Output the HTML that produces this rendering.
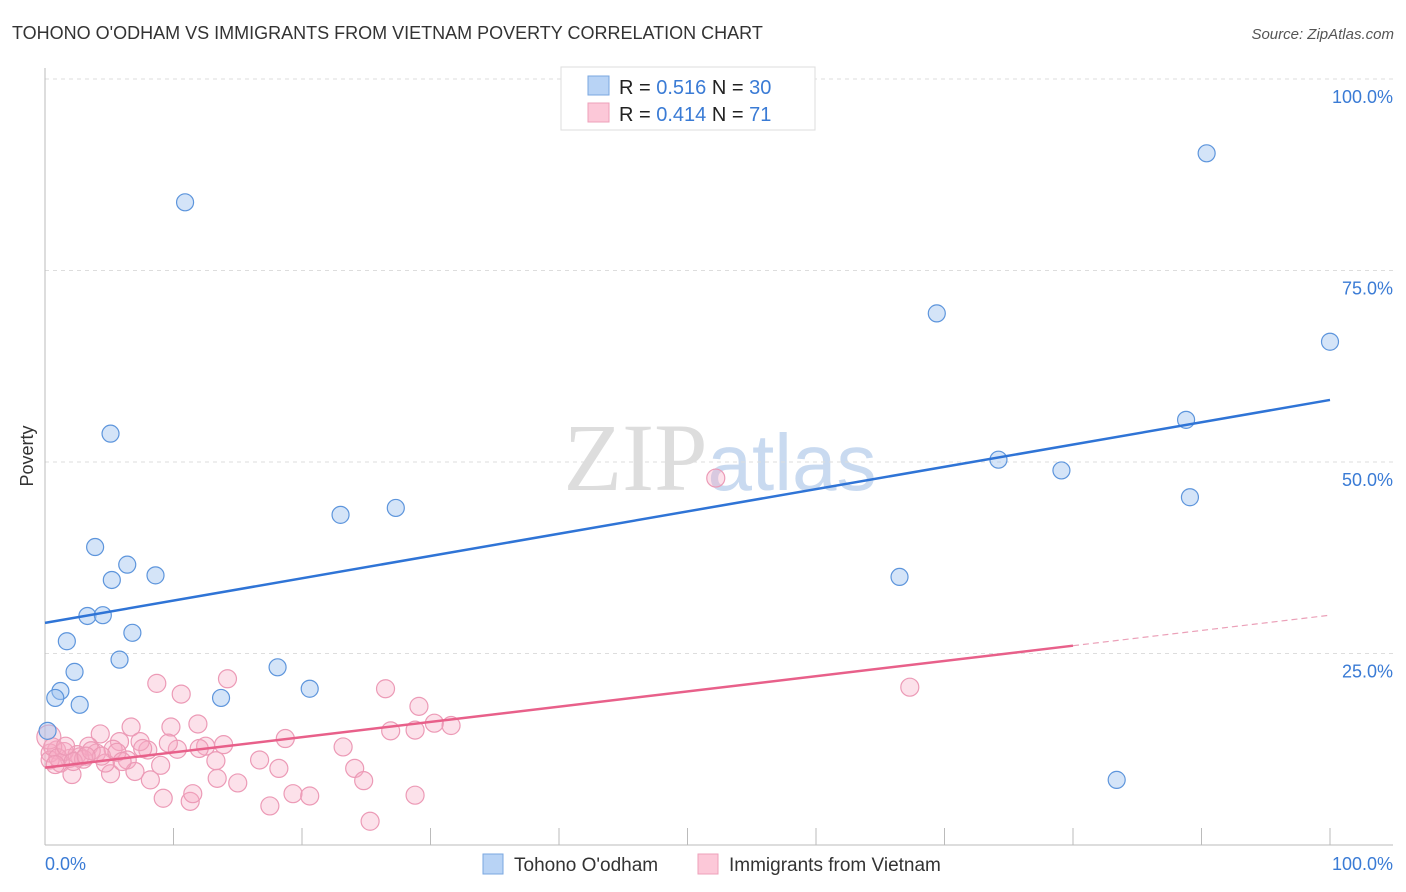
<!DOCTYPE html>
<html><head><meta charset="utf-8"><style>
body{margin:0;background:#fff;font-family:"Liberation Sans",sans-serif}
svg{display:block}
</style></head><body>
<svg id="chart" width="1406" height="892" xmlns="http://www.w3.org/2000/svg">
<text x="12" y="39" font-size="18" fill="#333">TOHONO O'ODHAM VS IMMIGRANTS FROM VIETNAM POVERTY CORRELATION CHART</text>
<text x="1394" y="39" font-size="15" fill="#555" font-style="italic" text-anchor="end">Source: ZipAtlas.com</text>
<text x="720" y="490" font-size="96" fill="#ddd" text-anchor="middle" font-family="Liberation Serif">ZIP<tspan fill="#c9daf0" font-family="Liberation Sans" font-size="80">atlas</tspan></text>
<g id="grid"></g>
<g id="axes"></g>
<g id="marks"></g>
<text transform="translate(33,456) rotate(-90)" font-size="18" fill="#333" text-anchor="middle">Poverty</text>
<g>
<rect x="561" y="67" width="254" height="63" fill="#fff" stroke="#ddd"/>
<rect x="588" y="76" width="21" height="19" fill="#b8d3f5" stroke="#7aa7e0"/>
<rect x="588" y="103" width="21" height="19" fill="#fcc8d8" stroke="#eea0ba"/>
<text x="619" y="94" font-size="20" fill="#222">R = <tspan fill="#3a7bd5">0.516</tspan>    N = <tspan fill="#3a7bd5">30</tspan></text>
<text x="619" y="121" font-size="20" fill="#222">R = <tspan fill="#3a7bd5">0.414</tspan>    N =  <tspan fill="#3a7bd5">71</tspan></text>
</g>
<g>
<rect x="483" y="854" width="20" height="20" fill="#b8d3f5" stroke="#7aa7e0"/>
<text x="514" y="871" font-size="19" fill="#333">Tohono O'odham</text>
<rect x="698" y="854" width="20" height="20" fill="#fcc8d8" stroke="#eea0ba"/>
<text x="729" y="871" font-size="19" fill="#333">Immigrants from Vietnam</text>
</g>
</svg>
<script>
const yTicks=[25,50,75,100];
const yTickLabels=["25.0%","50.0%","75.0%","100.0%"];
const xTicks=[0,10,20,30,40,50,60,70,80,90,100];
const blueX=[10.9,5.1,90.4,69.4,100,88.8,74.2,79.1,89.1,23.0,27.3,3.9,6.4,5.2,8.6,3.3,4.5,6.8,1.7,5.8,2.3,18.1,20.6,13.7,1.2,0.8,2.7,66.5,83.4,0.2];
const blueY=[83.9,53.7,90.3,69.4,65.7,55.5,50.3,48.9,45.4,43.1,44.0,38.9,36.6,34.6,35.2,29.9,30.0,27.7,26.6,24.2,22.6,23.2,20.4,19.2,20.1,19.2,18.3,35.0,8.5,14.9];
const pinkX=[8.7,10.6,14.2,26.5,29.1,4.3,6.7,9.8,11.9,18.7,26.9,28.8,30.3,31.6,23.2,12.5,13.9,10.3,9.6,8.0,7.4,5.8,5.3,3.4,4.0,2.7,1.9,0.9,0.4,1.2,0.4,2.1,5.1,6.4,7.0,4.7,9.0,8.2,13.3,13.4,16.7,18.2,15.0,24.1,24.8,9.2,11.3,11.5,17.5,19.3,20.6,28.8,25.3,52.2,67.3,0.3,1.5,2.5,3.0,3.6,4.4,5.6,6.0,7.6,0.6,1.0,2.2,3.2,0.8,1.6,12.0];
const pinkY=[21.1,19.7,21.7,20.4,18.1,14.5,15.4,15.4,15.8,13.9,14.9,15.0,15.9,15.6,12.8,12.9,13.1,12.5,13.3,12.4,13.5,13.5,12.5,12.9,12.0,11.5,11.3,12.4,12.0,10.7,11.1,9.2,9.3,11.1,9.6,10.7,10.4,8.5,11.0,8.7,11.1,10.0,8.1,10.0,8.4,6.1,5.7,6.7,5.1,6.7,6.4,6.5,3.1,47.9,20.6,14.1,12.2,11.8,11.2,12.3,11.6,12.1,10.9,12.6,12.8,11.4,10.9,11.6,10.5,12.9,12.6];
const blueTrend=[29.0,58.1];
const pinkTrend=[10.1,30.0];
const pinkSolidEnd=80;
const NS='http://www.w3.org/2000/svg';
const X=v=>45+v*12.85, Y=v=>845-v*7.66;
function mk(tag,attrs,parent){const e=document.createElementNS(NS,tag);for(const k in attrs)e.setAttribute(k,attrs[k]);parent.appendChild(e);return e;}
const grid=document.getElementById('grid'),axes=document.getElementById('axes'),marks=document.getElementById('marks');
yTicks.forEach((t,i)=>{
 const l=mk('line',{x1:45,x2:1393,y1:Y(t),y2:Y(t),stroke:'#ddd','stroke-dasharray':'4,4'},grid);
 
 
 const tx=mk('text',{x:1393,y:Y(t)+24,'font-size':18,fill:'#3a7bd5','text-anchor':'end'},grid);
 tx.textContent=yTickLabels[i];
 
 
});
const ax=mk('line',{x1:45,x2:1393,y1:845,y2:845,stroke:'#bbb'},axes);


const ay=mk('line',{x1:45,x2:45,y1:68,y2:845,stroke:'#bbb'},axes);


xTicks.forEach(t=>{
 const l=mk('line',{x1:X(t),x2:X(t),y1:828,y2:845,stroke:'#bbb'},axes);
 
 
});
const xl0=mk('text',{x:45,y:870,'font-size':18,fill:'#3a7bd5'},axes);xl0.textContent='0.0%';


const xl1=mk('text',{x:1393,y:870,'font-size':18,fill:'#3a7bd5','text-anchor':'end'},axes);xl1.textContent='100.0%';


pinkX.forEach((v,i)=>{
 const c=mk('circle',{cx:X(v),cy:Y(pinkY[i]),r:i===55?12:9,fill:'rgba(245,170,195,0.35)',stroke:'#ec9ab6','stroke-width':1.2},marks);
 
 
});
blueX.forEach((v,i)=>{
 const c=mk('circle',{cx:X(v),cy:Y(blueY[i]),r:8.5,fill:'rgba(160,195,240,0.45)',stroke:'#5d95dc','stroke-width':1.2},marks);
 
 
});
const bl=mk('line',{x1:X(0),y1:Y(blueTrend[0]),x2:X(100),y2:Y(blueTrend[1]),stroke:'#2f74d6','stroke-width':2.5},marks);


const pm=pinkTrend[0]+(pinkTrend[1]-pinkTrend[0])*pinkSolidEnd/100;
const pl=mk('line',{x1:X(0),y1:Y(pinkTrend[0]),x2:X(pinkSolidEnd),y2:Y(pm),stroke:'#e8608a','stroke-width':2.5},marks);


const pd=mk('line',{x1:X(pinkSolidEnd),y1:Y(pm),x2:X(100),y2:Y(pinkTrend[1]),stroke:'#eba0b8','stroke-width':1.2,'stroke-dasharray':'6,4'},marks);


</script>
</body></html>
